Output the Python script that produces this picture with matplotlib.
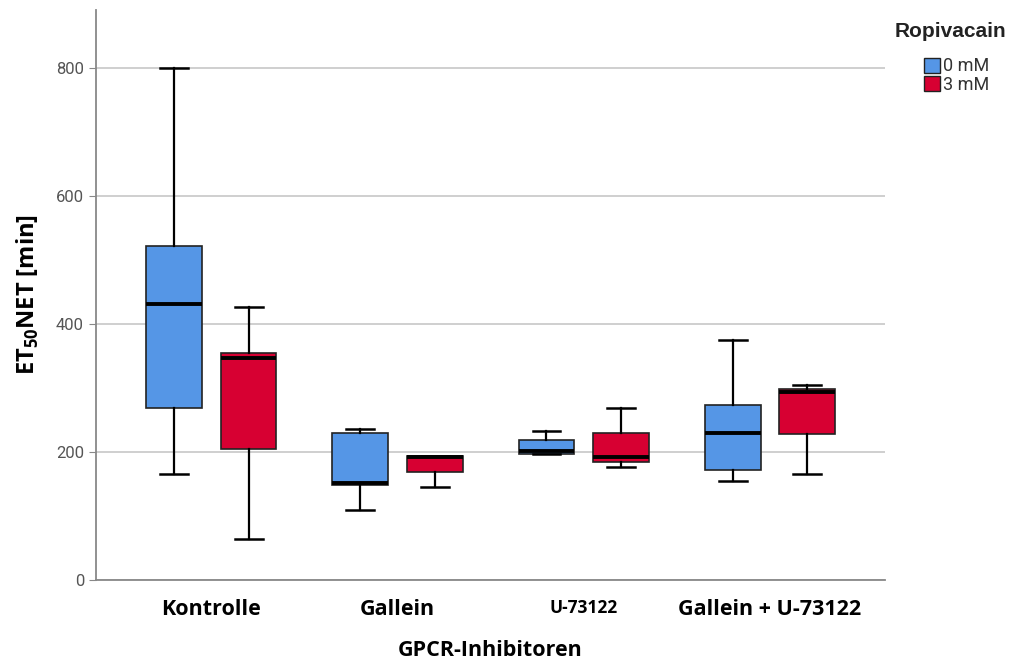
import matplotlib
matplotlib.use("Agg")
import matplotlib.pyplot as plt
from matplotlib.patches import Patch

groups = ["Kontrolle", "Gallein", "U-73122", "Gallein + U-73122"]
doses = ["0 mM", "3 mM"]
colors = ["#5596e6", "#d70032"]

# (whislo, q1, med, q3, whishi) per group, per dose
stats_0mM = [
    (165, 269, 431, 522, 800),
    (110, 148, 152, 229, 235),
    (196, 197, 202, 219, 233),
    (154, 172, 229, 274, 375),
]
stats_3mM = [
    (64, 205, 346, 355, 427),
    (145, 169, 192, 194, 194),
    (177, 185, 192, 230, 269),
    (165, 228, 293, 298, 304),
]

plt.rcParams['font.family'] = ['Roboto', 'DejaVu Sans']
plt.rcParams['mathtext.fontset'] = 'custom'
plt.rcParams['mathtext.rm'] = 'Open Sans'
plt.rcParams['mathtext.bf'] = 'Open Sans:bold'

fig = plt.figure(figsize=(10.2, 6.64), dpi=100)
ax = fig.add_axes([0.094, 0.1265, 0.774, 0.8585])

for k, (series, col) in enumerate(zip([stats_0mM, stats_3mM], colors)):
    bxp_stats = []
    for s in series:
        lo, q1, med, q3, hi = s
        bxp_stats.append(dict(whislo=lo, q1=q1, med=med, q3=q3, whishi=hi, fliers=[]))
    pos = [i + (-0.2 if k == 0 else 0.2) for i in range(len(groups))]
    ax.bxp(bxp_stats, positions=pos, widths=0.30, patch_artist=True,
           showfliers=False, capwidths=0.15,
           boxprops=dict(facecolor=col, edgecolor="#222222", linewidth=1.2),
           medianprops=dict(color="black", linewidth=2.8, solid_capstyle="butt"),
           whiskerprops=dict(color="black", linewidth=1.6),
           capprops=dict(color="black", linewidth=1.8))

ax.set_xlim(-0.62, 3.62)
ax.set_ylim(0, 890)
ax.set_yticks([0, 200, 400, 600, 800])
ax.yaxis.grid(True, color="#cccccc", linewidth=1.3)
ax.set_axisbelow(True)
for sp in ["top", "right"]:
    ax.spines[sp].set_visible(False)
ax.spines["left"].set_color("#888888")
ax.spines["bottom"].set_color("#888888")
ax.spines["left"].set_linewidth(1.3)
ax.spines["bottom"].set_linewidth(1.3)
ax.tick_params(axis="y", colors="#888888", labelcolor="#555555", labelsize=12, length=5)
ax.tick_params(axis="x", length=0, pad=14)

ax.set_xticks(range(len(groups)))
ax.set_xticklabels(groups, fontsize=15.5, fontweight="bold", family="Open Sans")
ax.get_xticklabels()[2].set_fontsize(12.5)

ax.set_xlabel("GPCR-Inhibitoren", fontsize=15.5, fontweight="bold", family="Open Sans", labelpad=14)
ax.set_ylabel(r"ET$_{\mathbf{50}}$NET [min]", fontsize=17, fontweight="bold",
              family="Open Sans", labelpad=11)

fig.text(0.877, 0.952, "Ropivacain", fontsize=15, fontweight="bold",
         family="Liberation Sans", color="#222222", va="center")
handles = [Patch(facecolor=c, edgecolor="#222222", label=d) for c, d in zip(colors, doses)]
leg = fig.legend(handles=handles, loc="upper left",
                 bbox_to_anchor=(0.895, 0.93), frameon=False, fontsize=13,
                 handlelength=0.9, handleheight=0.9, handletextpad=0.15, labelspacing=0.05,
                 borderpad=0.1)
for t in leg.get_texts():
    t.set_color("#333333")

fig.savefig("out.png", dpi=100)
